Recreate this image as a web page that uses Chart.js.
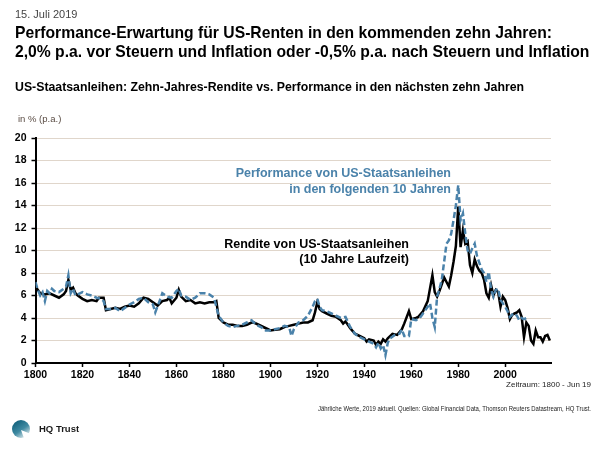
<!DOCTYPE html>
<html lang="de">
<head>
<meta charset="UTF-8">
<title>US-Staatsanleihen: Rendite vs. Performance</title>
<script src="https://cdn.jsdelivr.net/npm/chart.js"></script>
<style>
  html, body { margin: 0; padding: 0; background: #fff; }
  canvas { display: block; }
</style>
</head>
<body>
<canvas id="bondChart" width="600" height="450"></canvas>
<script>
// Rendite von US-Staatsanleihen (10 Jahre Laufzeit), in % p.a.
const yieldYears = [1800,1801,1802,1804,1806,1808,1810,1812,1813,1814,1815,1816,1817,1818,1820,1822,1824,1826,1827,1829,
  1830,1832,1834,1836,1838,1840,1842,1844,1846,1848,1850,1852,1854,1856,1857,1858,1860,1861,1862,1864,1866,1868,
  1870,1872,1874,1876,1877,1878,1880,1882,1884,1886,1888,1890,1892,1893,1895,1897,1899,1900,1902,1904,1906,1908,
  1910,1912,1914,1916,1918,1919,1920,1921,1922,1924,1926,1928,1930,1931,1932,1934,1936,1938,1940,1941,1942,1944,
  1945,1946,1947,1948,1949,1950,1952,1954,1956,1957,1959,1960,1962,1963,1965,1967,1969,1970,1971,1972,1974,1975,
  1976,1977,1978,1979,1980,1981,1982,1983,1984,1985,1986,1987,1988,1989,1990,1991,1992,1993,1994,1995,1996,1997,
  1998,1999,2000,2001,2002,2003,2004,2005,2006,2007,2008,2009,2010,2011,2012,2013,2014,2015,2016,2017,2018,2019];
const yieldValues = [6.8,6.5,6.2,6.1,6.2,6.0,5.8,6.1,6.4,7.4,6.5,6.7,6.2,6.0,5.7,5.5,5.6,5.5,5.8,5.8,
  4.7,4.8,4.9,4.8,5.0,5.1,5.0,5.3,5.8,5.7,5.4,5.1,5.5,5.6,5.8,5.3,5.8,6.5,5.9,5.5,5.6,5.3,
  5.4,5.3,5.4,5.4,5.5,4.0,3.6,3.4,3.4,3.3,3.3,3.4,3.6,3.6,3.4,3.2,3.0,2.9,2.95,3.0,3.2,3.3,
  3.4,3.5,3.6,3.6,3.8,4.5,5.4,4.8,4.6,4.4,4.2,4.1,3.8,3.5,3.7,3.1,2.6,2.4,2.2,1.9,2.1,2.0,
  1.6,1.9,1.7,2.1,1.9,2.2,2.6,2.5,3.0,3.5,4.6,3.9,4.0,4.1,4.6,5.5,7.8,6.3,5.9,6.4,7.6,7.2,
  6.8,7.8,9.0,10.4,13.9,10.3,11.8,10.6,10.8,8.7,8.0,9.2,8.6,8.2,8.0,7.4,6.2,5.8,6.9,6.0,6.5,6.3,
  5.0,5.9,5.6,4.9,3.9,4.3,4.4,4.5,4.7,4.1,2.3,3.6,3.3,2.0,1.7,2.9,2.3,2.3,1.9,2.4,2.5,2.0];

// Performance von US-Staatsanleihen in den folgenden 10 Jahren, in % p.a.
const perfYears = [1800,1801,1802,1803,1804,1805,1806,1807,1808,1810,1812,1813,1814,1815,1816,1817,1818,1820,1822,1824,
  1826,1828,1829,1830,1832,1834,1836,1838,1840,1842,1844,1846,1848,1850,1851,1853,1854,1856,1858,1860,1861,1862,
  1864,1866,1868,1870,1872,1874,1876,1877,1878,1880,1882,1884,1886,1888,1890,1892,1894,1896,1898,1900,1902,1904,
  1906,1908,1909,1910,1912,1914,1916,1918,1919,1920,1921,1922,1924,1926,1928,1930,1932,1934,1936,1938,1940,1942,
  1944,1945,1946,1947,1948,1949,1950,1951,1953,1955,1956,1957,1959,1960,1962,1964,1966,1967,1968,1969,1970,1971,
  1972,1973,1974,1975,1976,1977,1978,1979,1980,1981,1982,1983,1984,1985,1986,1987,1988,1989,1990,1991,1992,1993,
  1994,1995,1996,1997,1998,1999,2000,2001,2002,2003,2004,2005,2006,2007,2008,2009];
const perfValues = [7.2,6.5,6.0,6.3,5.5,6.4,6.2,6.6,6.4,6.3,6.6,6.8,7.8,6.2,6.6,6.0,6.1,6.3,6.1,6.0,
  5.8,5.7,5.5,4.8,4.8,4.9,4.6,4.9,5.2,5.4,5.7,5.8,5.4,5.2,4.5,5.6,6.2,5.9,5.8,6.4,6.6,6.0,
  5.9,5.6,5.8,6.2,6.2,6.1,5.8,5.0,4.2,3.6,3.3,3.2,3.3,3.4,3.6,3.8,3.4,3.2,2.9,2.9,3.0,3.1,
  3.3,3.2,2.4,3.0,3.6,3.8,4.2,5.0,5.5,5.7,5.0,4.7,4.6,4.4,4.2,4.0,4.1,3.2,2.6,2.3,2.1,1.9,
  1.7,1.4,1.8,1.3,1.6,0.7,1.8,2.2,2.5,2.6,3.0,2.4,2.4,3.9,3.8,4.1,4.7,5.0,5.3,4.0,3.2,5.9,
  6.6,7.4,9.0,10.6,10.9,11.5,12.7,14.0,15.8,12.7,13.3,11.5,10.0,9.7,10.2,10.6,9.5,8.9,8.3,8.0,7.2,8.1,
  6.5,5.9,6.5,6.6,5.6,5.3,5.0,4.6,4.1,4.3,4.4,4.2,3.8,4.0,3.9,4.0];

const yMin = 0, yMax = 20, yStep = 2;
const xMin = 1800, xMax = 2019.5, xStep = 20;

const FONT = '"Liberation Sans", Arial, Helvetica, sans-serif';
const BLUE = '#4a82aa';

function toPoints(xs, ys) {
  return xs.map((x, i) => ({ x: x, y: ys[i] }));
}

const textPlugin = {
  id: 'pageTexts',
  beforeDraw(chart) {
    const c = chart.ctx;
    c.save();
    c.fillStyle = '#fff';
    c.fillRect(0, 0, chart.width, chart.height);
    c.restore();
  },
  afterDraw(chart) {
    const c = chart.ctx;
    c.save();
    c.textBaseline = 'middle';
    c.textAlign = 'left';

    c.fillStyle = '#444';
    c.font = '11px ' + FONT;
    c.fillText('15. Juli 2019', 15, 15);

    c.fillStyle = '#000';
    c.font = 'bold 15.7px ' + FONT;
    c.fillText('Performance-Erwartung für US-Renten in den kommenden zehn Jahren:', 15, 34);
    c.fillText('2,0% p.a. vor Steuern und Inflation oder -0,5% p.a. nach Steuern und Inflation', 15, 52.5, 575);

    c.font = 'bold 12.3px ' + FONT;
    c.fillText('US-Staatsanleihen: Zehn-Jahres-Rendite vs. Performance in den nächsten zehn Jahren', 15, 88);

    c.fillStyle = '#5a4c44';
    c.font = '9.5px ' + FONT;
    c.fillText('in % (p.a.)', 18, 119);

    // annotations
    c.textAlign = 'right';
    c.font = 'bold 12.5px ' + FONT;
    c.fillStyle = BLUE;
    c.fillText('Performance von US-Staatsanleihen', 451, 174);
    c.fillText('in den folgenden 10 Jahren', 451, 189.5);
    c.fillStyle = '#000';
    c.fillText('Rendite von US-Staatsanleihen', 409, 245);
    c.fillText('(10 Jahre Laufzeit)', 409, 260);

    c.fillStyle = '#222';
    c.font = '8px ' + FONT;
    c.fillText('Zeitraum: 1800 - Jun 19', 591, 385, 105);
    c.font = '6.5px ' + FONT;
    c.fillText('Jährliche Werte, 2019 aktuell. Quellen: Global Financial Data, Thomson Reuters Datastream, HQ Trust.', 591, 409, 273);

    // logo
    const g = c.createLinearGradient(14, 421, 26, 438);
    g.addColorStop(0, '#0d5d78');
    g.addColorStop(0.55, '#3f8aa2');
    g.addColorStop(1, '#eef2f3');
    c.fillStyle = g;
    c.beginPath();
    c.arc(21, 429, 9, 0, Math.PI * 2);
    c.fill();
    c.fillStyle = '#fff';
    c.beginPath();
    c.moveTo(21, 430);
    c.lineTo(31, 434);
    c.lineTo(31, 441);
    c.lineTo(25, 441);
    c.closePath();
    c.fill();

    c.textAlign = 'left';
    c.fillStyle = '#1a1a1a';
    c.font = 'bold 9.5px ' + FONT;
    c.fillText('HQ Trust', 39, 429);
    c.restore();
  }
};

const ctx = document.getElementById('bondChart').getContext('2d');
const chart = new Chart(ctx, {
  type: 'line',
  data: {
    datasets: [
      {
        label: 'Performance von US-Staatsanleihen in den folgenden 10 Jahren',
        data: toPoints(perfYears, perfValues),
        borderColor: BLUE,
        borderWidth: 2.5,
        borderDash: [6, 3],
        pointRadius: 0,
        tension: 0,
        fill: false,
        order: 0
      },
      {
        label: 'Rendite von US-Staatsanleihen (10 Jahre Laufzeit)',
        data: toPoints(yieldYears, yieldValues),
        borderColor: '#000',
        borderWidth: 2.5,
        pointRadius: 0,
        tension: 0,
        fill: false,
        order: 1
      }
    ]
  },
  options: {
    responsive: false,
    animation: false,
    layout: { padding: { top: 138, right: 49, bottom: 67, left: 0 } },
    plugins: { legend: { display: false }, tooltip: { enabled: false } },
    scales: {
      x: {
        type: 'linear',
        min: xMin,
        max: xMax,
        afterFit: s => { s.height = 20; },
        ticks: {
          stepSize: xStep,
          includeBounds: false,
          autoSkip: false,
          maxRotation: 0,
          padding: 2,
          color: '#000',
          font: { family: FONT, size: 10.5, weight: 'bold' },
          callback: v => (v % 20 === 0 ? String(v) : '')
        },
        grid: { drawOnChartArea: false, drawTicks: true, tickLength: 4, tickColor: '#000', tickWidth: 1.5 },
        border: { color: '#000', width: 2 }
      },
      y: {
        min: yMin,
        max: yMax,
        afterFit: s => { s.width = 35.5; },
        ticks: {
          stepSize: yStep,
          padding: 5,
          color: '#000',
          font: { family: FONT, size: 10.5, weight: 'bold' }
        },
        grid: { color: '#e0d6cb', lineWidth: 1, drawTicks: true, tickLength: 4, tickColor: '#000', tickWidth: 1.5 },
        border: { color: '#000', width: 2 }
      }
    }
  },
  plugins: [textPlugin]
});
</script>
</body>
</html>
